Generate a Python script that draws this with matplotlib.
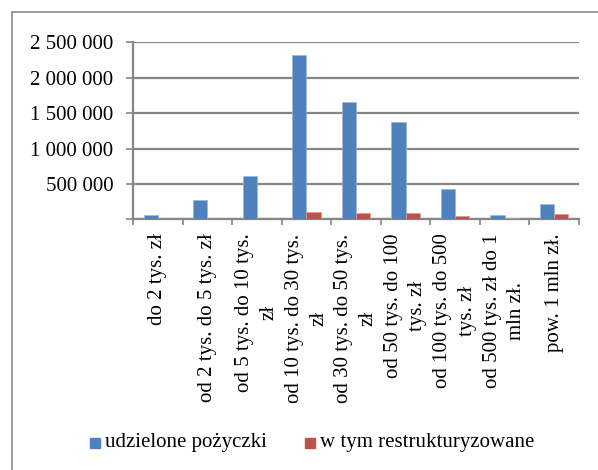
import numpy as np
import matplotlib
matplotlib.use("Agg")
import matplotlib.pyplot as plt
from matplotlib.lines import Line2D
from matplotlib.patches import Rectangle

plt.rcParams['font.family'] = ['Liberation Serif', 'DejaVu Serif']

categories = [
    "do 2 tys. zł",
    "od 2 tys. do 5 tys. zł",
    "od 5 tys. do 10 tys.\nzł",
    "od 10 tys. do 30 tys.\nzł",
    "od 30 tys. do 50 tys.\nzł",
    "od 50 tys. do 100\ntys. zł",
    "od 100 tys. do 500\ntys. zł",
    "od 500 tys. zł do 1\nmln zł.",
    "pow. 1 mln zł.",
]
udzielone = [63000, 270000, 613000, 2320000, 1650000, 1373000, 430000, 63000, 218000]
restrukturyzowane = [1500, 3000, 9000, 106000, 96000, 87000, 54000, 20000, 77000]
yticks = [0, 500000, 1000000, 1500000, 2000000, 2500000]
ytick_labels = ["", "500 000", "1 000 000", "1 500 000", "2 000 000", "2 500 000"]

blue = "#4F81BD"
red = "#C0504D"
grid = "#868686"

fig = plt.figure(figsize=(5.98, 4.70), dpi=100)
ax = fig.add_axes([0.2224, 0.533, 0.9682 - 0.2224, 0.9106 - 0.533])

x = np.arange(len(categories))
w = 0.2857
ax.bar(x - w / 2, udzielone, width=w, color=blue, edgecolor="#9DB7DB", linewidth=0.5, zorder=3)
ax.bar(x + w / 2, restrukturyzowane, width=w, color=red, edgecolor="#DA9A98", linewidth=0.5, zorder=3)

ax.set_xlim(-0.5, len(categories) - 0.5)
ax.set_ylim(0, 2500000)
ax.set_yticks(yticks)
ax.set_yticklabels(ytick_labels, fontsize=15)
ax.yaxis.grid(True, color=grid, linewidth=1.6, zorder=0)
ax.tick_params(axis='y', length=5, width=1.2, color=grid, pad=9)

for s in ["top", "right"]:
    ax.spines[s].set_visible(False)
for s in ["left", "bottom"]:
    ax.spines[s].set_color(grid)
    ax.spines[s].set_linewidth(1.6)

ax.set_xticks(np.arange(len(categories) + 1) - 0.5)
ax.set_xticklabels([])
ax.tick_params(axis='x', length=4, width=1.2, color=grid)

for i, lab in enumerate(categories):
    ax.annotate(lab, xy=(i, 0), xycoords='data', xytext=(0, -10), textcoords='offset points',
                rotation=90, ha='center', va='top', multialignment='center',
                fontsize=15, linespacing=1.4)

# legend
fig.add_artist(Rectangle((90 / 598, 1 - 448 / 470), 10 / 598, 10 / 470,
                         transform=fig.transFigure, color=blue))
fig.text(105 / 598, 1 - 443 / 470, "udzielone pożyczki", fontsize=15, va='center', ha='left')
fig.add_artist(Rectangle((305 / 598, 1 - 448 / 470), 10 / 598, 10 / 470,
                         transform=fig.transFigure, color=red))
fig.text(320 / 598, 1 - 443 / 470, "w tym restrukturyzowane", fontsize=15, va='center', ha='left')

# chart frame (only top and left edges are inside the image)
fig.add_artist(Line2D([12 / 598, 1.0], [1 - 12 / 470, 1 - 12 / 470],
                      transform=fig.transFigure, color="#8C8C8C", linewidth=1.2))
fig.add_artist(Line2D([12 / 598, 12 / 598], [0.0, 1 - 12 / 470],
                      transform=fig.transFigure, color="#8C8C8C", linewidth=1.2))

fig.savefig("out.png", dpi=100)
